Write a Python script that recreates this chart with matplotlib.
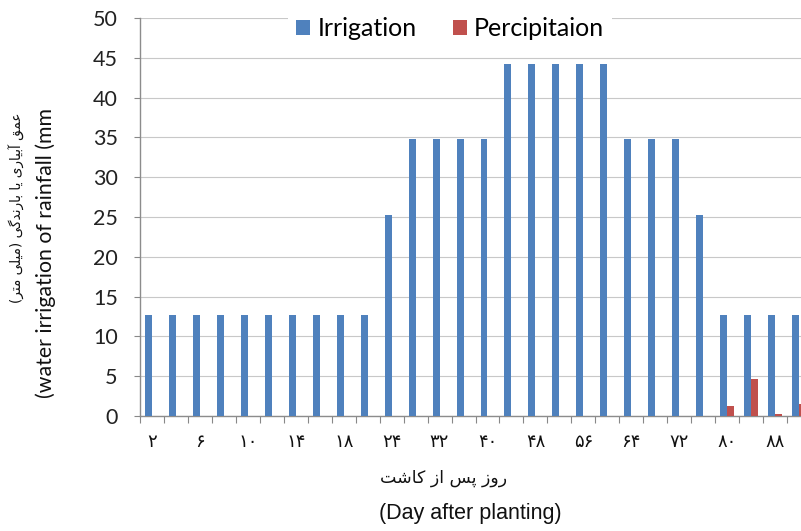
import matplotlib
matplotlib.use('Agg')
import matplotlib.pyplot as plt
from matplotlib.patches import Patch
import numpy as np

# ---------------- data ----------------
days = [2, 4, 6, 8, 10, 12, 14, 16, 18, 20, 24, 28, 32, 36, 40, 44, 48, 52,
        56, 60, 64, 68, 72, 76, 80, 84, 88, 92]
irrigation = [12.7, 12.7, 12.7, 12.7, 12.7, 12.7, 12.7, 12.7, 12.7, 12.7,
              25.3, 34.8, 34.8, 34.8, 34.8, 44.2, 44.2, 44.2, 44.2, 44.2,
              34.8, 34.8, 34.8, 25.3, 12.7, 12.7, 12.7, 12.7]
precipitation = [0, 0, 0, 0, 0, 0, 0, 0, 0, 0,
                 0, 0, 0, 0, 0, 0, 0, 0, 0, 0,
                 0, 0, 0, 0, 1.3, 4.6, 0.2, 1.5]
series_names = ['Irrigation', 'Percipitaion']
y_ticks = [0, 5, 10, 15, 20, 25, 30, 35, 40, 45, 50]
xlabel_fa = 'روز پس از کاشت'
xlabel_en = '(Day after planting)'
ylabel_fa = 'عمق آبیاری یا بارندگی (میلی متر)'
ylabel_en = '(water irrigation of rainfall (mm'

# ---------------- minimal Persian shaping (no shaping in matplotlib) ----------------
FORMS = {  # isolated, final, initial, medial
    'ا': (0xFE8D, 0xFE8E, None, None), 'آ': (0xFE81, 0xFE82, None, None),
    'د': (0xFEA9, 0xFEAA, None, None), 'ر': (0xFEAD, 0xFEAE, None, None),
    'ز': (0xFEAF, 0xFEB0, None, None), 'و': (0xFEED, 0xFEEE, None, None),
    'ب': (0xFE8F, 0xFE90, 0xFE91, 0xFE92), 'پ': (0xFB56, 0xFB57, 0xFB58, 0xFB59),
    'ت': (0xFE95, 0xFE96, 0xFE97, 0xFE98), 'س': (0xFEB1, 0xFEB2, 0xFEB3, 0xFEB4),
    'ش': (0xFEB5, 0xFEB6, 0xFEB7, 0xFEB8), 'ع': (0xFEC9, 0xFECA, 0xFECB, 0xFECC),
    'ق': (0xFED5, 0xFED6, 0xFED7, 0xFED8), 'ک': (0xFB8E, 0xFB8F, 0xFB90, 0xFB91),
    'گ': (0xFB92, 0xFB93, 0xFB94, 0xFB95), 'ل': (0xFEDD, 0xFEDE, 0xFEDF, 0xFEE0),
    'م': (0xFEE1, 0xFEE2, 0xFEE3, 0xFEE4), 'ن': (0xFEE5, 0xFEE6, 0xFEE7, 0xFEE8),
    'ی': (0xFBFC, 0xFBFD, 0xFBFE, 0xFBFF),
}


def shape_fa(text):
    out = []
    n = len(text)
    for i, ch in enumerate(text):
        if ch not in FORMS:
            out.append(ch)
            continue
        iso, fin, ini, med = FORMS[ch]
        prev = text[i - 1] if i > 0 else ''
        nxt = text[i + 1] if i < n - 1 else ''
        jp = prev in FORMS and FORMS[prev][2] is not None
        jn = ini is not None and nxt in FORMS
        if jp and jn:
            out.append(chr(med))
        elif jp:
            out.append(chr(fin))
        elif jn:
            out.append(chr(ini))
        else:
            out.append(chr(iso))
    vis = ''.join(reversed(out))
    vis = vis.translate(str.maketrans({'(': ')', ')': '('}))
    return vis


FA_DIGITS = str.maketrans('0123456789', '۰۱۲۳۴۵۶۷۸۹')

# ---------------- figure ----------------
W, H = 801, 531
fig = plt.figure(figsize=(W / 100, H / 100), dpi=100)
left_px, right_px, top_px, bot_px = 140, 811, 18, 416
ax = fig.add_axes([left_px / W, 1 - bot_px / H,
                   (right_px - left_px) / W, (bot_px - top_px) / H])

blue = '#4F81BD'
red = '#C0504D'
x = np.arange(len(days))
bw = 0.29
ax.bar(x - bw / 2, irrigation, bw, color=blue, zorder=3, label=series_names[0])
ax.bar(x + bw / 2, precipitation, bw, color=red, zorder=3, label=series_names[1])

ax.set_xlim(-0.5, len(days) - 0.5)
ax.set_ylim(0, 50)
ax.set_yticks(y_ticks)
ax.set_yticklabels([str(v) for v in y_ticks], fontsize=15.5, fontfamily='Lato',
                   color='#222222')
ax.yaxis.grid(True, color='#c8c8c8', linewidth=0.8, zorder=0)
ax.set_axisbelow(True)

# major ticks: labels every other category (no tick marks); minor: boundaries
ax.set_xticks(x[::2])
ax.set_xticklabels([str(d).translate(FA_DIGITS) for d in days[::2]],
                   fontsize=13, fontfamily='DejaVu Sans', color='#111111')
ax.set_xticks(np.arange(len(days) + 1) - 0.5, minor=True)
ax.tick_params(axis='x', which='major', length=0, pad=12)
ax.tick_params(axis='x', which='minor', length=5, color='#888888', width=0.8)
ax.tick_params(axis='y', which='major', length=4, color='#888888', width=0.8, pad=12)

for s in ['top', 'right']:
    ax.spines[s].set_visible(False)
for s in ['left', 'bottom']:
    ax.spines[s].set_color('#8c8c8c')
    ax.spines[s].set_linewidth(1.0)

# axis titles
fig.text(444 / W, 1 - 478 / H, shape_fa(xlabel_fa), ha='center', va='center',
         fontsize=12.5, fontfamily='DejaVu Sans', color='#111111')
fig.text(470 / W, 1 - 514 / H, xlabel_en, ha='center', va='center',
         fontsize=15.5, fontfamily='Liberation Sans', color='#111111')
fig.text(17 / W, 1 - 208 / H, shape_fa(ylabel_fa), ha='center', va='center',
         rotation=90, fontsize=9.8, fontfamily='DejaVu Sans', color='#111111')
fig.text(46 / W, 1 - 253 / H, ylabel_en, ha='center', va='center',
         rotation=90, fontsize=15.3, fontfamily='Lato', color='#111111')

# legend
handles = [Patch(facecolor=blue), Patch(facecolor=red)]
leg = fig.legend(handles, series_names, loc='center', bbox_to_anchor=(450 / W, 1 - 29 / H),
                 ncol=2, frameon=True, fancybox=False, edgecolor='none',
                 facecolor='white', framealpha=1, prop={'family': 'Lato', 'size': 18},
                 handlelength=0.56, handleheight=0.56, handletextpad=0.3,
                 columnspacing=1.45, borderpad=0.3)
leg.set_zorder(10)

fig.savefig('out.png', dpi=100)
